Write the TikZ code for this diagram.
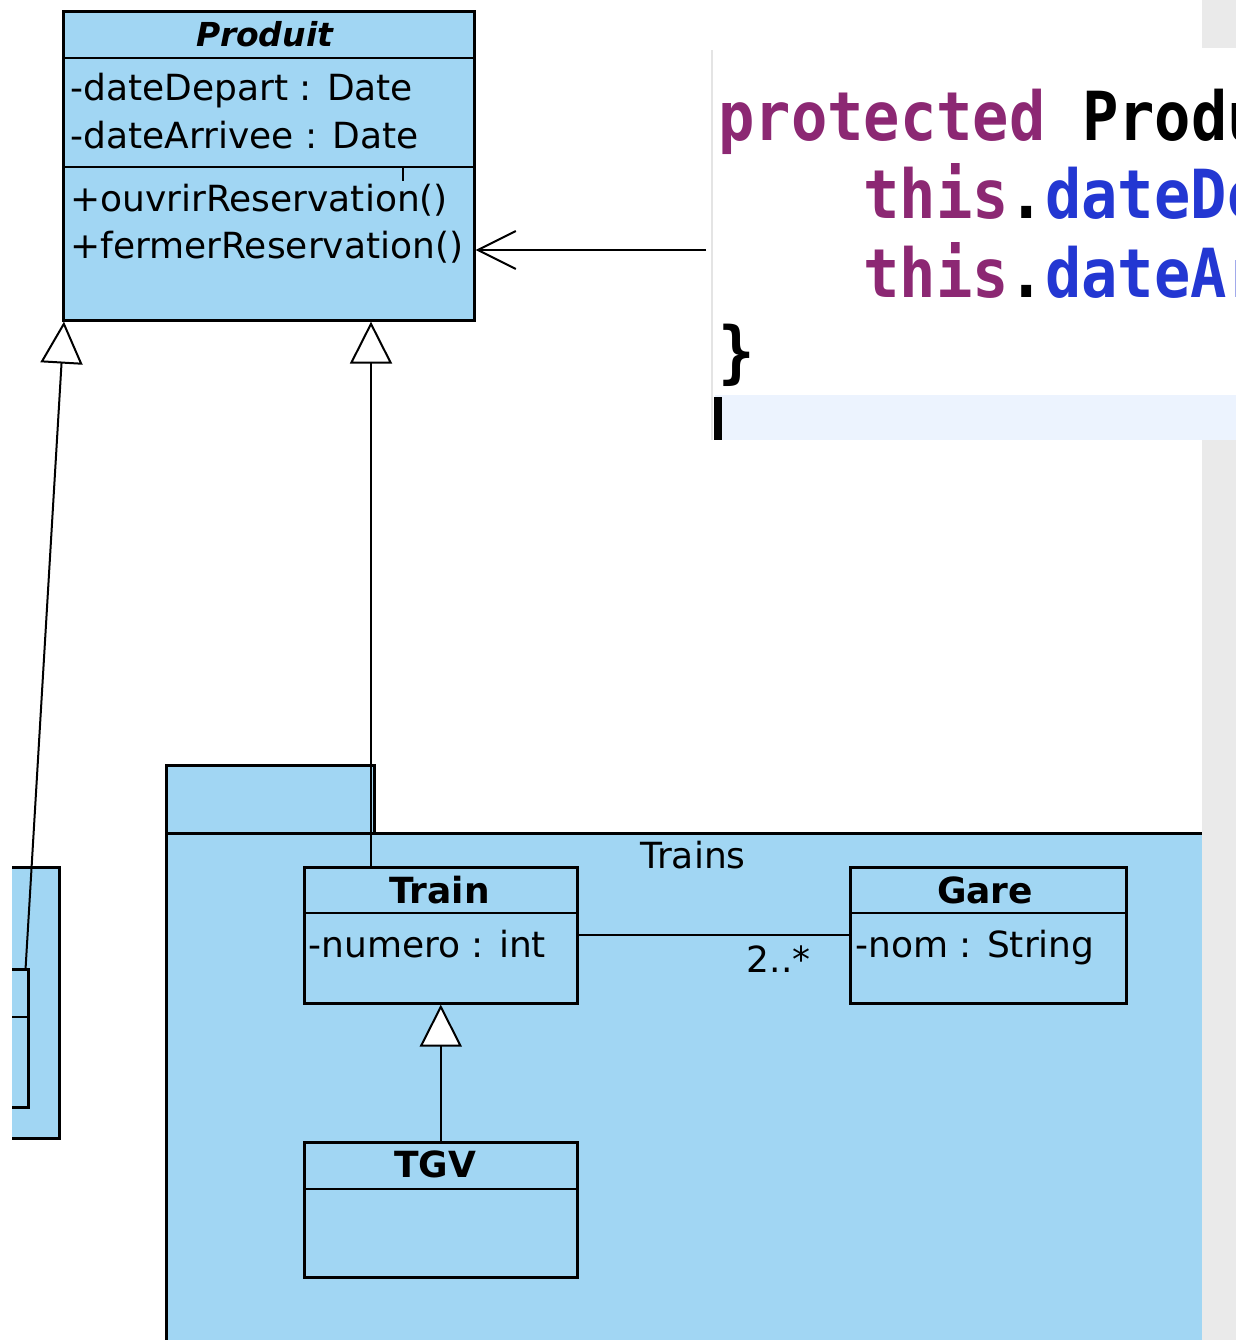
\documentclass[tikz,border=0pt]{standalone}
\usepackage{graphicx}
\usepackage{fontspec}
\setmainfont{DejaVu Sans}
\setmonofont{DejaVu Sans Mono}
\usetikzlibrary{arrows.meta}
\definecolor{umlblue}{RGB}{161,214,243}
\definecolor{kw}{RGB}{140,40,115}
\definecolor{fld}{RGB}{35,55,210}
\definecolor{hl}{RGB}{236,243,254}
\definecolor{sidegray}{RGB}{234,234,234}
\definecolor{panelline}{RGB}{228,228,228}
\begin{document}
\begin{tikzpicture}[x=0.5pt,y=-0.5pt,
  box/.style={draw=black, fill=umlblue, line width=1.3pt, inner sep=0pt, anchor=north west},
  sep/.style={line width=1.3pt},
  conn/.style={line width=1pt},
  gen/.style={conn, -{Triangle[length=21pt,width=21pt,fill=white,line join=miter]}},
  dep/.style={conn, -{Straight Barb[length=19pt,width=19pt]}},
  lbl/.style={inner sep=0pt, font=\fontsize{18pt}{21pt}\selectfont},
  ttl/.style={inner sep=0pt, anchor=base, font=\bfseries\fontsize{18pt}{21pt}\selectfont},
  code/.style={inner sep=0pt, anchor=base west, font=\ttfamily\bfseries\fontsize{30.2pt}{36pt}\selectfont},
]
\useasboundingbox (0,0) rectangle (1236,1340);
\clip (0,0) rectangle (1236,1340);
\fill[white] (0,0) rectangle (1236,1340);

% package Trains
\node[box, minimum width=104pt, minimum height=34pt] (tab) at (165,764) {};
\node[box, minimum width=547.5pt, minimum height=264pt] (pkg) at (165,832) {};
\node[lbl, anchor=base] (pkgname) at (693,868) {Trains};

% Produit
\node[box, minimum width=205.5pt, minimum height=154.5pt] (produit) at (62,10) {};
\draw[sep] (62,58) -- (473,58);
\draw[sep] (62,167) -- (473,167);
\draw[line width=0.8pt] (403,167) -- (403,181);
\node[inner sep=0pt, anchor=base, font=\bfseries\itshape\fontsize{16.5pt}{20pt}\selectfont] (produitT) at (265,46) {Produit};
\node[lbl, anchor=base west] (pa1) at (70,100) {-dateDepart : Date};
\node[lbl, anchor=base west] (pa2) at (70,148) {-dateArrivee : Date};
\node[lbl, anchor=base west] (po1) at (70,211) {+ouvrirReservation()};
\node[lbl, anchor=base west] (po2) at (70,258) {+fermerReservation()};

% Train
\node[box, minimum width=136.5pt, minimum height=68pt] (train) at (303,866) {};
\draw[sep] (303,913) -- (576,913);
\node[ttl] (trainT) at (439.5,903) {Train};
\node[lbl, anchor=base west] (ta1) at (308,957) {-numero : int};

% Gare
\node[box, minimum width=138pt, minimum height=68pt] (gare) at (849,866) {};
\draw[sep] (849,913) -- (1125,913);
\node[ttl] (gareT) at (985,903) {Gare};
\node[lbl, anchor=base west] (ga1) at (855,957) {-nom : String};

% TGV
\node[box, minimum width=136.5pt, minimum height=67.5pt] (tgv) at (303,1141) {};
\draw[sep] (303,1189) -- (576,1189);
\node[ttl] (tgvT) at (435,1177) {TGV};

% left (cut) class
\node[box, minimum width=39pt, minimum height=135.5pt] (leftbox) at (-20,866) {};
\node[box, minimum width=23.5pt, minimum height=69pt] (leftinner) at (-20,968) {};
\draw[sep] (-20,1017) -- (27,1017);

% connectors
\coordinate (g1) at (371,0);
\draw[gen] (train.north -| g1) -- (produit.south -| g1);
\draw[gen] (tgv.north) -- (train.south);
\draw[gen] ([xshift=-2pt]leftinner.north east) -- ([xshift=1pt]produit.south west);
\coordinate (assocy) at (0,935);
\draw[conn] (train.east |- assocy) -- (gare.west |- assocy);
\node[lbl, anchor=base east] (mult) at (811,972) {2..*};

% code panel
\fill[white] (711,50) rectangle (1236,440);
\draw[panelline, line width=1pt] (712,50) -- (712,440);
\fill[hl] (715,395) rectangle (1236,440);
\fill[black] (714,397) rectangle (722,440);
\node[code] (c1) at (718,140) {\scalebox{1}[1.12]{\textcolor{kw}{protected} Produ}};
\node[code] (c2) at (863,218) {\scalebox{1}[1.12]{\textcolor{kw}{this}.\textcolor{fld}{dateDe}}};
\node[code] (c3) at (863,297) {\scalebox{1}[1.12]{\textcolor{kw}{this}.\textcolor{fld}{dateAr}}};
\node[code] (c4) at (718,375) {\scalebox{1}[1.12]{\}}};
\coordinate (codeend) at (706,250);
\draw[dep] (codeend) -- (produit.east |- codeend);

% side strips
\fill[sidegray] (1202,0) rectangle (1236,48);
\fill[sidegray] (1202,440) rectangle (1236,1340);
\fill[white] (0,0) rectangle (12,1340);
\end{tikzpicture}
\end{document}
